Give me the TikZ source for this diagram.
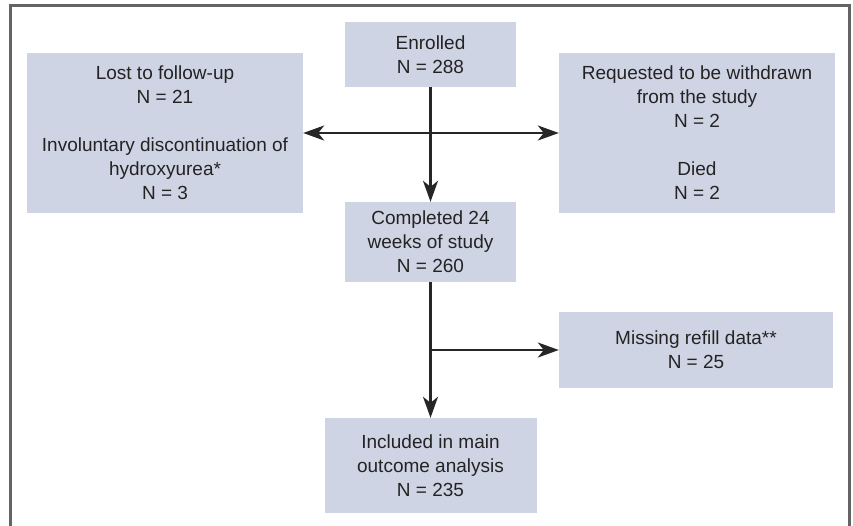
\documentclass[tikz,border=0pt]{standalone}
\usepackage{fontspec}
\setmainfont{Liberation Sans}
\usepackage{xcolor}
\usetikzlibrary{arrows.meta,positioning}

\definecolor{boxfill}{RGB}{207,212,228}
\definecolor{framegray}{RGB}{100,100,100}
\definecolor{textgray}{RGB}{35,35,35}

\tikzset{
    flowbox/.style={fill=boxfill, text=textgray, align=center, inner sep=0pt,
        font=\fontsize{19pt}{24pt}\selectfont},
    flowarrow/.style={line width=2.5pt, draw=black!85, -{Stealth[length=21pt,width=15pt,inset=6pt]}},
}

\begin{document}
\begin{tikzpicture}[x=1pt,y=-1pt]
    \useasboundingbox (0,0) rectangle (853,525);
    % outer frame, open at the bottom
    \draw[framegray, line width=2.4pt] (10.5,530) -- (10.5,5.5) -- (849.5,5.5) -- (849.5,530);

    \node[flowbox, minimum width=171pt, minimum height=65pt] (enrolled) at (430.5,54.5)
        {Enrolled\\N = 288};
    \node[flowbox, minimum width=276pt, minimum height=160pt] (lost) at (165,133)
        {Lost to follow-up\\N = 21\\[24pt]Involuntary discontinuation of\\hydroxyurea*\\N = 3};
    \node[flowbox, minimum width=276pt, minimum height=160pt] (withdrawn) at (697,133)
        {Requested to be withdrawn\\from the study\\N = 2\\[24pt]Died\\N = 2};
    \node[flowbox, minimum width=171pt, minimum height=80pt] (completed) at (430.5,242)
        {Completed 24\\weeks of study\\N = 260};
    \node[flowbox, minimum width=274pt, minimum height=76pt] (missing) at (696,350)
        {Missing refill data**\\N = 25};
    \node[flowbox, minimum width=212pt, minimum height=95pt] (included) at (430.5,465.5)
        {Included in main\\outcome analysis\\N = 235};

    \draw[flowarrow] (enrolled.south) -- (completed.north);
    \draw[flowarrow] (lost.east -| enrolled.south) -- (lost.east);
    \draw[flowarrow] (lost.east -| enrolled.south) -- (withdrawn.west);
    \draw[flowarrow] (completed.south) -- (included.north);
    \coordinate (split) at (completed.south |- missing.west);
    \draw[flowarrow] (split) -- (missing.west);
\end{tikzpicture}
\end{document}
